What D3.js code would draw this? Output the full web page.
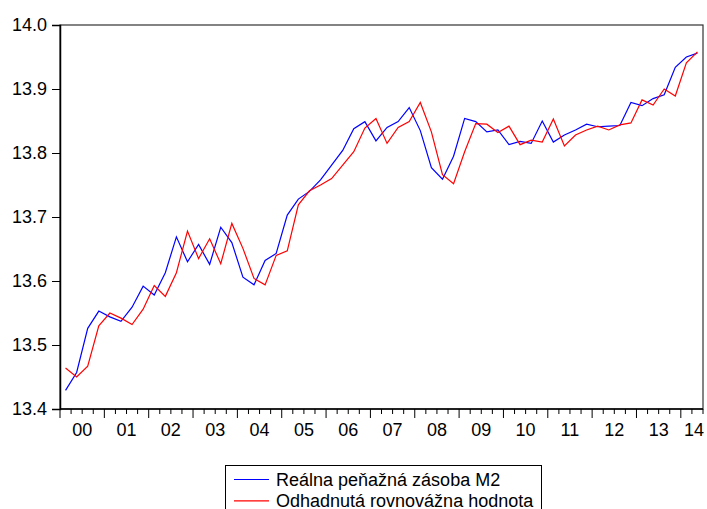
<!DOCTYPE html>
<html>
<head>
<meta charset="utf-8">
<script src="https://cdn.jsdelivr.net/npm/d3@7"></script>
<style>
  html, body { margin: 0; padding: 0; background: #fff; }
  svg { display: block; font-family: "Liberation Sans", Arial, sans-serif; }
</style>
</head>
<body>
<svg id="chart" width="707" height="509"></svg>
<script>
// quarterly series, 2000Q1 .. 2014Q2
const startYear = 2000;
const realM2 = [
  13.429, 13.457, 13.526, 13.553, 13.544, 13.537, 13.559, 13.592, 13.578, 13.613,
  13.669, 13.630, 13.657, 13.626, 13.684, 13.660, 13.606, 13.594, 13.632, 13.643,
  13.703, 13.728, 13.740, 13.758, 13.781, 13.804, 13.838, 13.849, 13.819, 13.840,
  13.849, 13.871, 13.835, 13.777, 13.759, 13.795, 13.854, 13.849, 13.833, 13.836,
  13.813, 13.818, 13.815, 13.850, 13.817, 13.828, 13.836, 13.845, 13.841, 13.842,
  13.843, 13.879, 13.874, 13.885, 13.891, 13.934, 13.950, 13.956
];
const equilibrium = [
  13.464, 13.450, 13.467, 13.530, 13.550, 13.542, 13.532, 13.556, 13.593, 13.576,
  13.613, 13.678, 13.635, 13.666, 13.627, 13.690, 13.651, 13.604, 13.594, 13.640,
  13.647, 13.719, 13.741, 13.750, 13.760, 13.781, 13.802, 13.839, 13.854, 13.815,
  13.840, 13.849, 13.879, 13.833, 13.766, 13.752, 13.802, 13.846, 13.845, 13.832,
  13.842, 13.813, 13.820, 13.817, 13.853, 13.811, 13.828, 13.836, 13.842, 13.836,
  13.844, 13.847, 13.883, 13.875, 13.900, 13.889, 13.941, 13.958
];
const yTicks = [13.4, 13.5, 13.6, 13.7, 13.8, 13.9, 14.0];
const yearLabels = ["00","01","02","03","04","05","06","07","08","09","10","11","12","13","14"];
const seriesNames = ["Reálna peňažná zásoba M2", "Odhadnutá rovnovážna hodnota"];
const seriesColors = ["#0000ff", "#ff0000"];

const svg = d3.select('#chart');
const L = 60, R = 703, T = 25, B = 409;
const nQ = realM2.length;
const FS = 18;

// x in quarter units; point i sits in the middle of its quarter
const x = d3.scaleLinear().domain([0, nQ]).range([L, R]);
const y = d3.scaleLinear().domain([13.4, 14.0]).range([B, T]);

// frame
svg.append('rect').attr('x', L).attr('y', T).attr('width', R - L).attr('height', B - T)
  .attr('fill', 'none').attr('stroke', '#333').attr('stroke-width', 1.2);

// y axis
const yAxis = svg.append('g').attr('transform', `translate(${L},0)`)
  .call(d3.axisLeft(y).tickValues(yTicks).tickFormat(d3.format('.1f')).tickSize(8).tickPadding(5));
yAxis.select('.domain').attr('stroke', '#000').attr('stroke-width', 1.5);
yAxis.selectAll('.tick line').attr('stroke', '#000');
yAxis.selectAll('.tick text').attr('font-size', FS).attr('fill', '#000')
  .attr('font-family', '"Liberation Sans", Arial, sans-serif');

// x axis: minor quarter ticks, major year ticks
const qTicks = d3.range(0, nQ + 1);
const xg = svg.append('g').attr('transform', `translate(0,${B})`);
xg.append('line').attr('x1', L).attr('x2', R).attr('stroke', '#000').attr('stroke-width', 1.5);
xg.selectAll('line.q').data(qTicks).enter().append('line').attr('class', 'q')
  .attr('x1', d => x(d)).attr('x2', d => x(d))
  .attr('y1', 0).attr('y2', d => d % 4 === 0 ? 9 : 5)
  .attr('stroke', '#000').attr('stroke-width', 1);
xg.selectAll('text').data(yearLabels).enter().append('text')
  .attr('x', (d, i) => Math.min(x(i * 4 + 2), R - 9))
  .attr('y', 27)
  .attr('text-anchor', 'middle')
  .attr('font-size', FS).attr('fill', '#000')
  .text(d => d);

// lines
const line = d3.line().x((d, i) => x(i + 0.5)).y(d => y(d));
[realM2, equilibrium].forEach((s, k) => {
  svg.append('path').datum(s).attr('d', line)
    .attr('fill', 'none').attr('stroke', seriesColors[k]).attr('stroke-width', 1.2);
});

// legend
const lg = svg.append('g');
lg.append('rect').attr('x', 225.5).attr('y', 465.5).attr('width', 316).attr('height', 50)
  .attr('fill', '#fff').attr('stroke', '#000').attr('stroke-width', 1);
seriesNames.forEach((name, k) => {
  const yy = 479.5 + k * 21.3;
  lg.append('line').attr('x1', 234).attr('x2', 269).attr('y1', yy).attr('y2', yy)
    .attr('stroke', seriesColors[k]).attr('stroke-width', 1.2);
  lg.append('text').attr('x', 276).attr('y', yy + 6).attr('font-size', FS).attr('fill', '#000').text(name);
});
</script>
</body>
</html>
